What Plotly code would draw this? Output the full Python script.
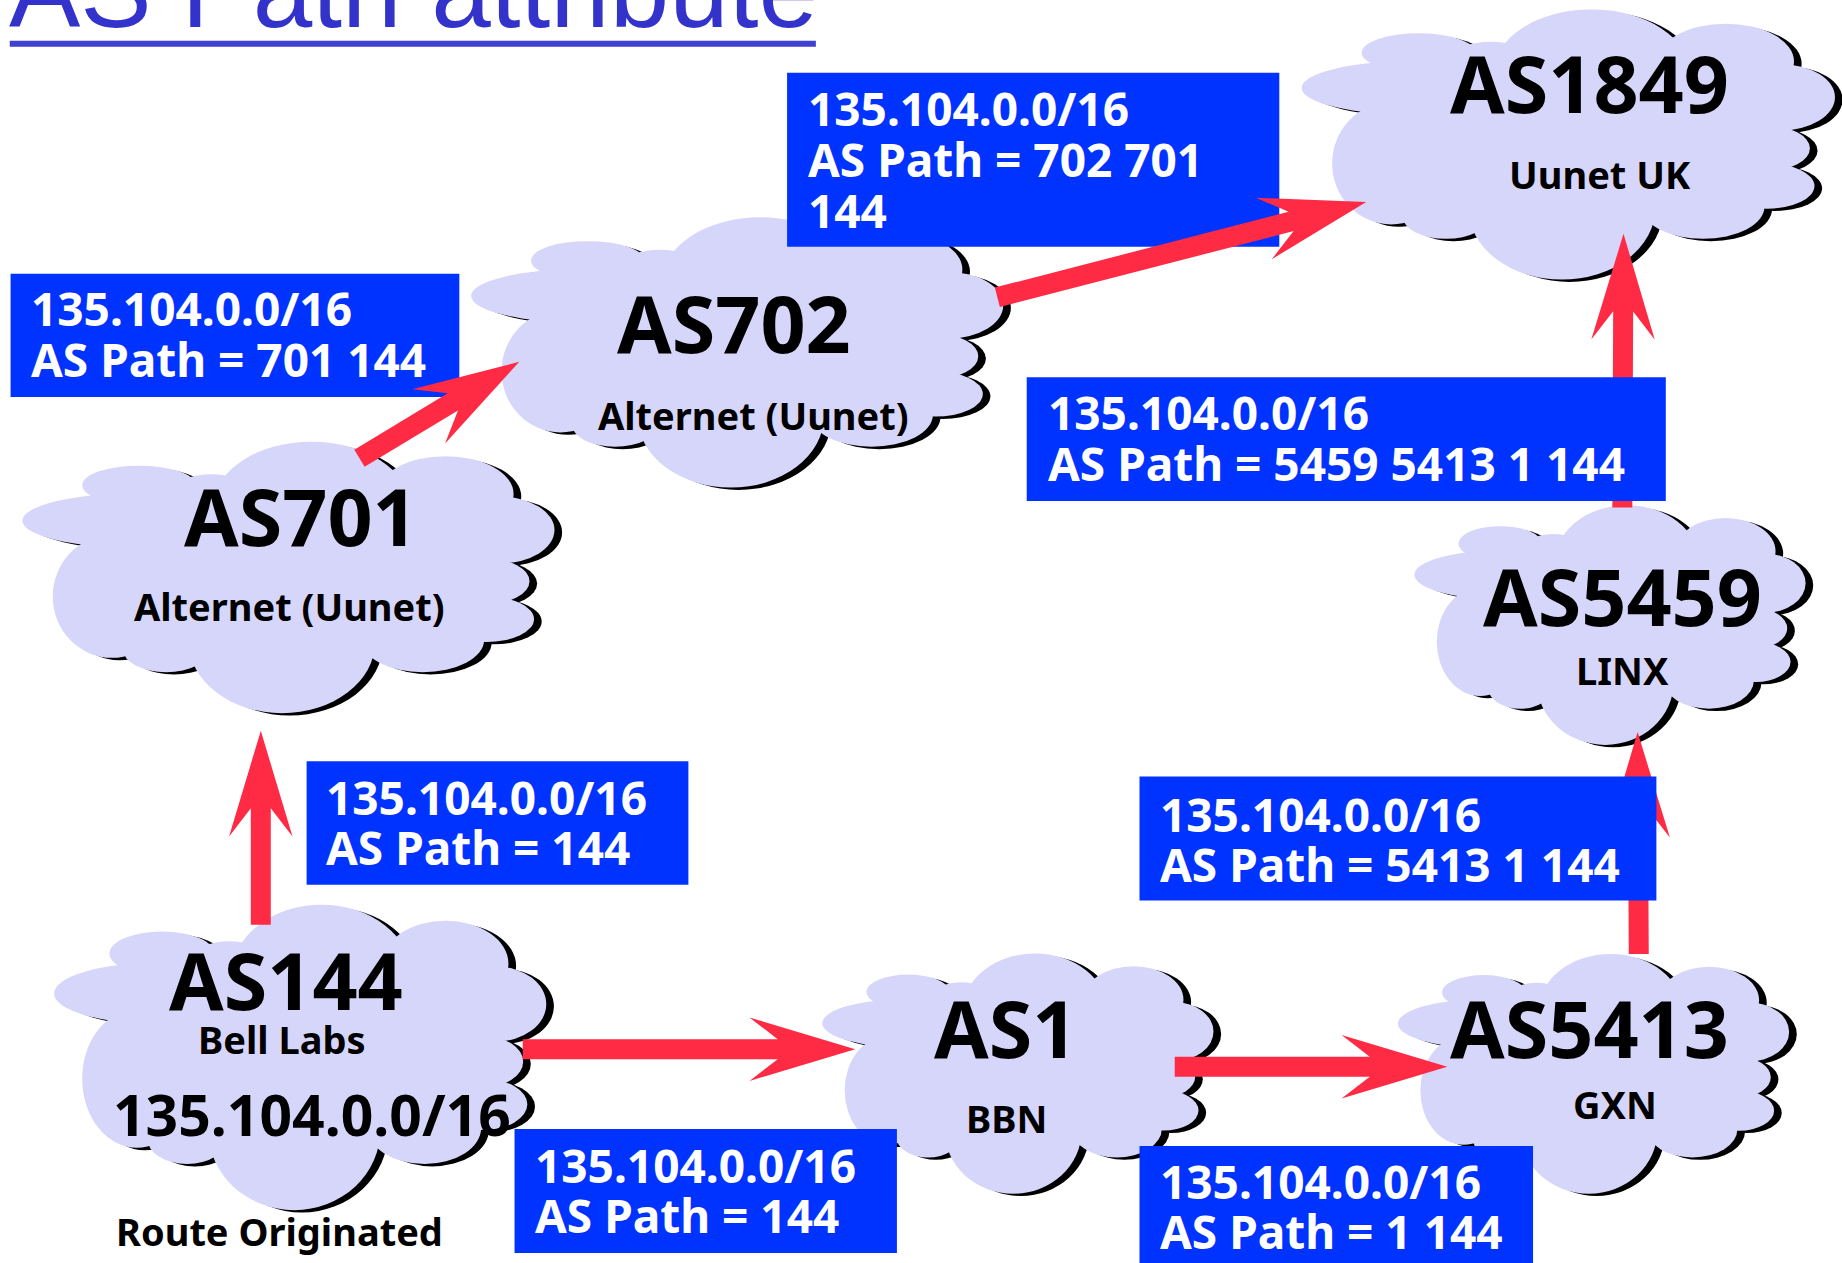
import math
import plotly.graph_objects as go

# ---------------- data ----------------
title_text = "AS Path attribute"

cloud_names = ["AS144", "AS701", "AS702", "AS1849", "AS1", "AS5413", "AS5459"]
cloud_subtitles = ["Bell Labs", "Alternet (Uunet)", "Alternet (Uunet)", "Uunet UK", "BBN", "GXN", "LINX"]
origin_prefix = "135.104.0.0/16"
origin_note = "Route Originated"

box_lines = [
    ["135.104.0.0/16", "AS Path = 701 144"],
    ["135.104.0.0/16", "AS Path = 702 701", "144"],
    ["135.104.0.0/16", "AS Path = 5459 5413 1 144"],
    ["135.104.0.0/16", "AS Path = 144"],
    ["135.104.0.0/16", "AS Path = 5413 1 144"],
    ["135.104.0.0/16", "AS Path = 144"],
    ["135.104.0.0/16", "AS Path = 1 144"],
]

# ---------------- layout (display units, 1568 x 1075 canvas) ----------------
W, H = 1568, 1075
# cloud bounding boxes: x0, x1, y0, y1
cloud_boxes = [
    (46, 465, 770, 1030),
    (19, 472, 376, 607),
    (401, 854, 185, 415),
    (1108, 1562, 8, 238),
    (700, 1033, 811.5, 1016),
    (1190, 1523, 812, 1016),
    (1204, 1537, 430, 634),
]
title_pos = [(243.5, 835.5), (256.5, 440.5), (625, 277), (1353, 72), (856, 877), (1353, 877), (1381, 509)]
sub_pos = [(240, 885), (246.5, 517), (641, 354), (1362, 149), (857, 953), (1375, 940.5), (1381, 571.5)]
prefix_pos = (266, 950)
note_pos = (238, 1048.5)

# blue boxes: x0, x1, y0, y1, text-left, line centers
blue_boxes = [
    (9, 391, 233, 338, 27, [263, 307]),
    (670, 1089, 62, 210, 688, [93.5, 136.5, 180]),
    (874, 1418, 321, 426.5, 892, [352, 395]),
    (261, 586, 648, 753, 278, [680, 722.5]),
    (970, 1410, 661, 766.5, 988, [694, 736.5]),
    (438, 763.5, 961, 1066.5, 456, [993, 1035.5]),
    (970, 1305, 975.5, 1090, 988, [1006.5, 1049]),
]
boxes_below_arrows = [0, 1, 3, 5, 6]
boxes_above_arrows = [2, 4]

# arrows: start, tip
arrows = [
    ((222, 787), (222, 622)),
    ((306, 390), (442, 308)),
    ((849, 253), (1163, 172)),
    ((1381, 432), (1382, 199)),
    ((1395, 812), (1394, 623)),
    ((445, 893), (728, 893)),
    ((1000, 908), (1232, 908)),
]

LAV = "#D6D6FA"
RED = "#FF2A44"
BLUE = "#0033FF"

# cloud outline as a union of lobes (normalised to the cloud's bounding box):
# centre u, centre v, radius u, radius v
CLOUD_LOBES = [
    (0.215, 0.2905, 0.215, 0.1006),   # left flat lobe
    (0.2193, 0.16, 0.1067, 0.072),     # top-left ear
    (0.355, 0.175, 0.07, 0.055),       # ear-to-top joint
    (0.5435, 0.2346, 0.1834, 0.2346),  # big top lobe
    (0.7952, 0.1927, 0.128, 0.1397),   # top-right lobe
    (0.8976, 0.3254, 0.1024, 0.1229),  # right lobe
    (0.872, 0.514, 0.0811, 0.0838),    # right bump
    (0.872, 0.6536, 0.0896, 0.0838),   # lower right bump
    (0.7526, 0.7304, 0.1152, 0.1187),  # bottom-right lobe
    (0.488, 0.7374, 0.1749, 0.2626),   # bottom lobe
    (0.2705, 0.7654, 0.0811, 0.0838),  # bottom-left lobe
    (0.1681, 0.5698, 0.1109, 0.2263),  # lower-left lobe
    (0.5222, 0.5, 0.3669, 0.3073),     # body
]


def lobe_shapes(box, color, dx=0.0, dy=0.0):
    x0, x1, y0, y1 = box
    w, h = x1 - x0, y1 - y0
    out = []
    for cu, cv, ru, rv in CLOUD_LOBES:
        cx, cy = x0 + cu * w + dx, y0 + cv * h + dy
        rx, ry = ru * w, rv * h
        out.append(dict(type="circle", xref="x", yref="y",
                        x0=cx - rx, x1=cx + rx, y0=cy - ry, y1=cy + ry,
                        fillcolor=color, line=dict(width=0), layer="above"))
    return out


def arrow_path(start, tip, w=8.5, L=90, Hh=27, N=55):
    sx, sy = start
    tx, ty = tip
    ln = math.hypot(tx - sx, ty - sy)
    ux, uy = (tx - sx) / ln, (ty - sy) / ln
    nx, ny = -uy, ux
    a = -L + (L - N) * (Hh - w) / Hh

    def P(along, lat):
        return (tx + ux * along + nx * lat, ty + uy * along + ny * lat)

    pts = [
        (sx + nx * w, sy + ny * w),
        P(a, w),
        P(-L, Hh),
        (tx, ty),
        P(-L, -Hh),
        P(a, -w),
        (sx - nx * w, sy - ny * w),
    ]
    return "M " + " L ".join(f"{px:.2f},{py:.2f}" for px, py in pts) + " Z"


shapes = []
SHX, SHY = 6.5, 2.0
for box in cloud_boxes:
    shapes += lobe_shapes(box, "black", SHX, SHY)
    shapes += lobe_shapes(box, LAV)


def add_box(i):
    x0, x1, y0, y1, _, _ = blue_boxes[i]
    shapes.append(dict(type="rect", x0=x0, x1=x1, y0=y0, y1=y1, fillcolor=BLUE,
                       line=dict(width=0), layer="above"))


for i in boxes_below_arrows:
    add_box(i)
for s, t in arrows:
    shapes.append(dict(type="path", path=arrow_path(s, t), fillcolor=RED,
                       line=dict(width=0), layer="above"))
for i in boxes_above_arrows:
    add_box(i)

# title underline
shapes.append(dict(type="rect", x0=8.3, x1=694.5, y0=34.6, y1=39.7, fillcolor="#4040D2",
                   line=dict(width=0), layer="above"))

FONT = "Noto Sans"
annotations = []


def txt(x, y, s, size, color="black", xanchor="center", family=FONT, bold=True, yanchor="middle"):
    annotations.append(dict(
        x=x, y=y, xref="x", yref="y", text=s, showarrow=False,
        xanchor=xanchor, yanchor=yanchor,
        font=dict(family=family, size=size, color=color, weight="bold" if bold else "normal"),
    ))


K = 1842 / 1568
for name, (x, y) in zip(cloud_names, title_pos):
    txt(x, y - 0.031 * 79 / K, name, 79)
for sub, (x, y) in zip(cloud_subtitles, sub_pos):
    txt(x, y - 0.031 * 38 / K, sub, 38)
txt(prefix_pos[0], prefix_pos[1] - 0.031 * 57 / K, origin_prefix, 57)
txt(note_pos[0], note_pos[1] - 0.031 * 38 / K, origin_note, 38)

for (x0, x1, y0, y1, tl, centers), lines in zip(blue_boxes, box_lines):
    for cy, line in zip(centers, lines):
        txt(tl - 2, cy - 0.031 * 46 / K, line, 46, color="white", xanchor="left")

# title
txt(6, 44, title_text, 107, color="#3333CC", xanchor="left",
    family="Liberation Sans, Arial", bold=False, yanchor="bottom")

fig = go.Figure()
fig.update_layout(
    width=1842, height=1263,
    margin=dict(l=0, r=0, t=0, b=0),
    paper_bgcolor="white", plot_bgcolor="white",
    xaxis=dict(range=[0, W], visible=False, fixedrange=True),
    yaxis=dict(range=[H, 0], visible=False, fixedrange=True),
    shapes=shapes,
    annotations=annotations,
    showlegend=False,
)
fig.write_html(
    "out.html",
    config={"displayModeBar": False},
    post_script="document.body.style.margin='0px';document.body.style.overflow='hidden';",
)
